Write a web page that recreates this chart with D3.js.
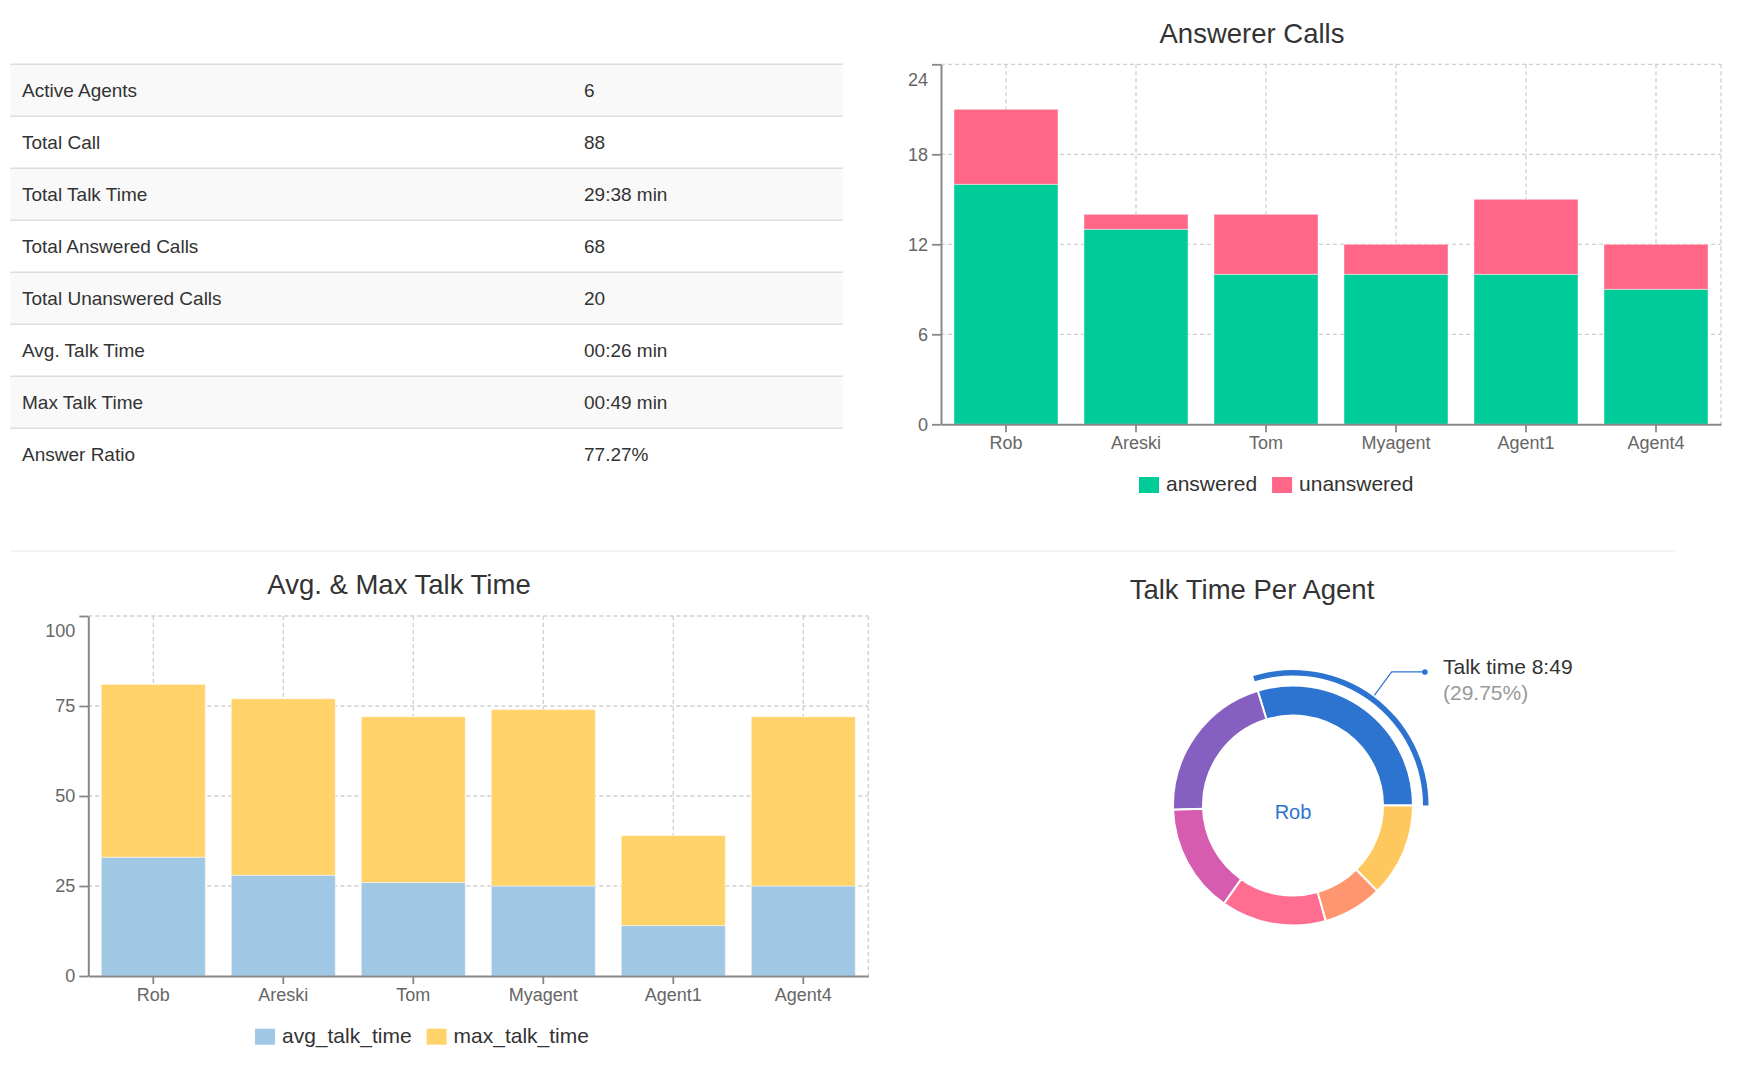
<!DOCTYPE html>
<html lang="en">
<head>
<meta charset="utf-8">
<script src="https://d3js.org/d3.v7.min.js"></script>
<style>
  body { margin: 0; background: #fff; }
  svg text { font-family: "Liberation Sans", Arial, sans-serif; }
  .grid line { stroke: #cfcfcf; stroke-width: 1.3; stroke-dasharray: 4,3; }
  .axis path.domain { stroke: #888; stroke-width: 2; }
  .axis .tick line { stroke: #888; stroke-width: 1.8; }
  .axis .tick text { fill: #666; font-size: 18px; }
</style>
</head>
<body>
<script>
// stats table
const statLabels = ["Active Agents", "Total Call", "Total Talk Time", "Total Answered Calls",
  "Total Unanswered Calls", "Avg. Talk Time", "Max Talk Time", "Answer Ratio"];
const statValues = ["6", "88", "29:38 min", "68", "20", "00:26 min", "00:49 min", "77.27%"];

// agents and series
const agents = ["Rob", "Areski", "Tom", "Myagent", "Agent1", "Agent4"];
const answered = [16, 13, 10, 10, 10, 9];
const unanswered = [5, 1, 4, 2, 5, 3];
const avgTalk = [33, 28, 26, 25, 14, 25];
const maxTalk = [48, 49, 46, 49, 25, 47];
const talkSeconds = [529, 370, 261, 252, 142, 224];

const callTicks = [0, 6, 12, 18, 24];
const timeTicks = [0, 25, 50, 75, 100];

const callColors = ["#00cc99", "#ff6687"];
const timeColors = ["#a0c7e4", "#ffd36a"];
const donutColors = ["#2d74d1", "#8660c0", "#d65cb0", "#ff6e91", "#ff9670", "#ffc85e"];

const svg = d3.select("body").append("svg")
  .attr("width", 1737)
  .attr("height", 1071);

// ---------- table ----------
const rowH = 52, tableTop = 64.3, tableLeft = 10, tableRight = 843;
const table = svg.append("g");
const rows = table.selectAll("g.row")
  .data(statLabels)
  .join("g")
  .attr("class", "row")
  .attr("transform", (d, i) => "translate(0," + (tableTop + i * rowH) + ")");

rows.append("rect")
  .attr("x", tableLeft)
  .attr("width", tableRight - tableLeft)
  .attr("height", rowH)
  .attr("fill", (d, i) => i % 2 === 0 ? "#f9f9f9" : "#fff");

rows.append("line")
  .attr("x1", tableLeft).attr("x2", tableRight)
  .attr("stroke", "#dedede").attr("stroke-width", 1.5);

rows.append("text")
  .attr("x", 22).attr("y", 33)
  .attr("fill", "#333").attr("font-size", 19)
  .text(d => d);

rows.append("text")
  .attr("x", 584).attr("y", 33)
  .attr("fill", "#333").attr("font-size", 19)
  .text((d, i) => statValues[i]);

// section separator
svg.append("line")
  .attr("x1", 10).attr("x2", 1676)
  .attr("y1", 551).attr("y2", 551)
  .attr("stroke", "#ebebeb").attr("stroke-width", 1.2);

// ---------- stacked bars ----------
const W = 780, H = 360;

function legend(items, colors, startX, baseline) {
  const g = svg.append("g");
  let x = startX;
  items.forEach((name, i) => {
    g.append("rect")
      .attr("x", x).attr("y", baseline - 14)
      .attr("width", 20).attr("height", 16)
      .attr("fill", colors[i]);
    const t = g.append("text")
      .attr("x", x + 27).attr("y", baseline)
      .attr("fill", "#333").attr("font-size", 21)
      .text(name);
    x += 27 + t.node().getComputedTextLength() + 15;
  });
}

function stackedChart(o) {
  const g = svg.append("g").attr("transform", "translate(" + o.left + "," + o.top + ")");

  const x = d3.scaleBand().domain(agents).range([0, W])
    .paddingInner(0.2).paddingOuter(0.1);
  const yMax = d3.max(o.ticks);
  const y = d3.scaleLinear().domain([0, yMax]).range([H, 0]);

  // grid
  const grid = g.append("g").attr("class", "grid");
  grid.selectAll("line.h")
    .data(o.ticks.filter(t => t > 0))
    .join("line").attr("class", "h")
    .attr("x1", 0).attr("x2", W)
    .attr("y1", d => y(d)).attr("y2", d => y(d));
  grid.selectAll("line.v")
    .data(agents)
    .join("line").attr("class", "v")
    .attr("x1", d => x(d) + x.bandwidth() / 2)
    .attr("x2", d => x(d) + x.bandwidth() / 2)
    .attr("y1", 0).attr("y2", H);
  grid.append("line")
    .attr("x1", W).attr("x2", W).attr("y1", 0).attr("y2", H);

  // bars
  const data = agents.map((a, i) => {
    const r = { agent: a };
    o.keys.forEach((k, j) => r[k] = o.values[j][i]);
    return r;
  });
  const layers = d3.stack().keys(o.keys)(data);

  g.selectAll("g.layer")
    .data(layers)
    .join("g")
    .attr("class", "layer")
    .attr("fill", (d, i) => o.colors[i])
    .selectAll("rect")
    .data(d => d)
    .join("rect")
    .attr("x", d => x(d.data.agent))
    .attr("y", d => y(d[1]))
    .attr("width", x.bandwidth())
    .attr("height", d => y(d[0]) - y(d[1]))
    .attr("stroke", "#fff")
    .attr("stroke-opacity", 0.45)
    .attr("stroke-width", 1);

  // axes
  const ya = g.append("g").attr("class", "axis")
    .call(d3.axisLeft(y).tickValues(o.ticks).tickSize(9).tickSizeOuter(0).tickPadding(4));
  ya.selectAll(".tick text").filter(d => d === yMax).attr("y", 15);

  g.append("g").attr("class", "axis")
    .attr("transform", "translate(0," + H + ")")
    .call(d3.axisBottom(x).tickSize(8).tickSizeOuter(0).tickPadding(4));

  // title
  svg.append("text")
    .attr("x", o.titleX).attr("y", o.top - 21.6)
    .attr("text-anchor", "middle")
    .attr("fill", "#333").attr("font-size", 27.5)
    .text(o.title);

  legend(o.keys, o.colors, o.legendX, o.top + H + 66.7);
}

stackedChart({
  left: 941, top: 64.3,
  keys: ["answered", "unanswered"],
  values: [answered, unanswered],
  colors: callColors,
  ticks: callTicks,
  title: "Answerer Calls",
  titleX: 1252,
  legendX: 1139
});

stackedChart({
  left: 88.3, top: 616,
  keys: ["avg_talk_time", "max_talk_time"],
  values: [avgTalk, maxTalk],
  colors: timeColors,
  ticks: timeTicks,
  title: "Avg. & Max Talk Time",
  titleX: 399,
  legendX: 255
});

// ---------- donut ----------
const cx = 1293, cy = 805.5;
const total = d3.sum(talkSeconds);

svg.append("text")
  .attr("x", 1252).attr("y", 599)
  .attr("text-anchor", "middle")
  .attr("fill", "#333").attr("font-size", 27.5)
  .text("Talk Time Per Agent");

const donut = svg.append("g").attr("transform", "translate(" + cx + "," + cy + ")");
const pie = d3.pie().sort(null)
  .startAngle(Math.PI / 2)
  .endAngle(Math.PI / 2 - 2 * Math.PI);
const slices = pie(talkSeconds);
const arc = d3.arc().innerRadius(90).outerRadius(120);

donut.selectAll("path.slice")
  .data(slices)
  .join("path")
  .attr("class", "slice")
  .attr("d", arc)
  .attr("fill", (d, i) => donutColors[i])
  .attr("stroke", "#fff")
  .attr("stroke-width", 2);

// selected slice (first agent)
const sel = slices[0];
const selColor = donutColors[0];
donut.append("path")
  .attr("d", d3.arc().innerRadius(130).outerRadius(135.5)(sel))
  .attr("fill", selColor);

const mid = (sel.startAngle + sel.endAngle) / 2;
const p0 = [137 * Math.sin(mid), -137 * Math.cos(mid)];
const p1 = [166 * Math.sin(mid), -166 * Math.cos(mid)];
const p2 = [p1[0] + 33.3, p1[1]];

donut.append("polyline")
  .attr("points", [p0, p1, p2].map(p => p.join(",")).join(" "))
  .attr("fill", "none")
  .attr("stroke", selColor)
  .attr("stroke-width", 1.2);
donut.append("circle")
  .attr("cx", p2[0]).attr("cy", p2[1]).attr("r", 2.8)
  .attr("fill", selColor);

const secs = talkSeconds[0];
const timeLabel = Math.floor(secs / 60) + ":" + String(secs % 60).padStart(2, "0");
const pctLabel = (secs / total * 100).toFixed(2) + "%";

svg.append("text")
  .attr("x", 1443).attr("y", 674)
  .attr("fill", "#333").attr("font-size", 21)
  .text("Talk time " + timeLabel);
svg.append("text")
  .attr("x", 1443).attr("y", 700)
  .attr("fill", "#999").attr("font-size", 21)
  .text("(" + pctLabel + ")");

donut.append("text")
  .attr("x", 0).attr("y", 13.5)
  .attr("text-anchor", "middle")
  .attr("fill", selColor).attr("font-size", 20)
  .text(agents[0]);
</script>
</body>
</html>
